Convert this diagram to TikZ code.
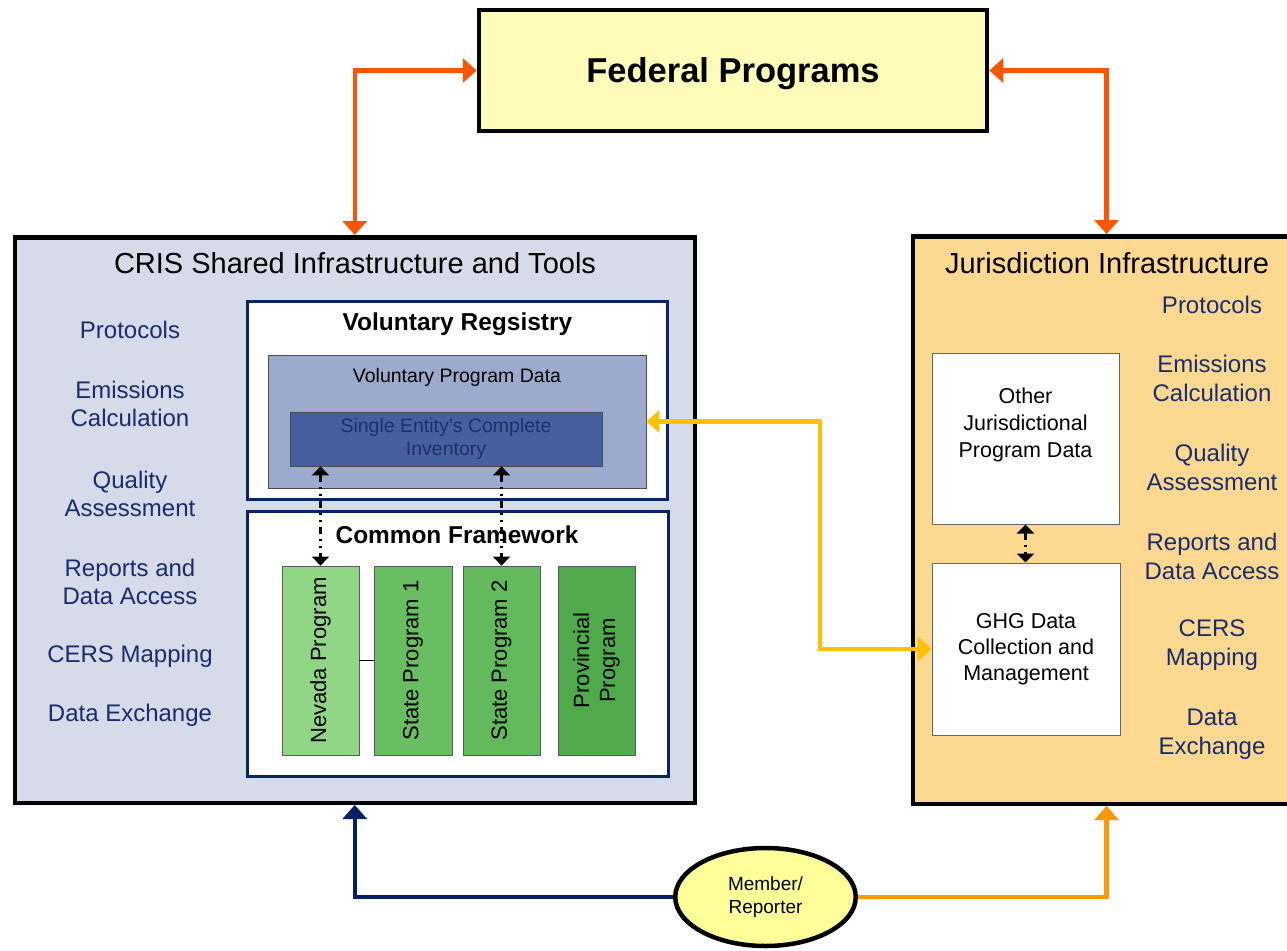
\documentclass[tikz,border=0pt]{standalone}
\usepackage{fontspec}
\setmainfont{Liberation Sans}
\usetikzlibrary{arrows.meta,shapes.geometric,calc}
\definecolor{fedfill}{RGB}{255,251,185}
\definecolor{crisfill}{RGB}{214,219,233}
\definecolor{jurfill}{RGB}{253,216,145}
\definecolor{vpdfill}{RGB}{155,170,205}
\definecolor{seifill}{RGB}{70,95,160}
\definecolor{seitext}{RGB}{30,48,105}
\definecolor{memfill}{RGB}{255,255,153}
\definecolor{redorange}{RGB}{255,85,0}
\definecolor{goldline}{RGB}{255,192,0}
\definecolor{orangeline}{RGB}{255,153,0}
\definecolor{navyline}{RGB}{0,32,96}
\definecolor{navytext}{RGB}{25,45,110}
\definecolor{boxnavy}{RGB}{10,35,100}
\definecolor{greenA}{RGB}{145,214,135}
\definecolor{greenB}{RGB}{105,190,98}
\definecolor{greenC}{RGB}{98,186,92}
\definecolor{greenD}{RGB}{80,170,75}
\newcommand{\myfs}[2]{\fontsize{#1pt}{#2pt}\selectfont}
\begin{document}
\begin{tikzpicture}[x=1pt,y=-1pt,
  bigbox/.style={draw=black,line width=4.5pt,rectangle,inner sep=0pt},
  subbox/.style={draw=boxnavy,line width=3pt,fill=white,rectangle,inner sep=0pt},
  thinbox/.style={draw=black!70,line width=0.8pt,rectangle,inner sep=0pt},
  progbox/.style={draw=black!65,line width=0.8pt,rectangle,inner sep=0pt,minimum height=189pt},
  progtxt/.style={rotate=90,align=center,font=\myfs{22}{26}},
  listtxt/.style={text=navytext,align=center,font=\myfs{24}{28}},
  rlisttxt/.style={text=navytext,align=center,font=\myfs{24}{29}},
  conn/.style={line width=4.5pt},
  bigtip/.style={-{Triangle[length=14pt,width=24pt]}},
  dbltip/.style={{Triangle[length=14pt,width=24pt]}-{Triangle[length=14pt,width=24pt]}},
  dashconn/.style={line width=2.5pt,dash pattern=on 7pt off 5pt on 2pt off 5pt on 2pt off 5pt,
    {Triangle[length=9pt,width=17pt]}-{Triangle[length=9pt,width=17pt]}}
]
\useasboundingbox (0,0) rectangle (1287,950);

% Federal programs
\node[bigbox,fill=fedfill,minimum width=508pt,minimum height=121pt,text depth=0pt] (fed) at (733,70.5)
  {\myfs{34.5}{38}\bfseries Federal Programs};

% CRIS box
\node[bigbox,fill=crisfill,minimum width=680pt,minimum height=565.5pt] (cris) at (354.75,520) {};
\node (cristitle) at (355,263) {\myfs{29}{34}CRIS Shared Infrastructure and Tools};

% left list
\node[listtxt] (l1) at (130,330) {Protocols};
\node[listtxt] (l2) at (130,404) {Emissions\\Calculation};
\node[listtxt] (l3) at (130,493.5) {Quality\\Assessment};
\node[listtxt] (l4) at (130,581.5) {Reports and\\Data Access};
\node[listtxt] (l5) at (130,656) {CERS Mapping};
\node[listtxt] (l6) at (130,715) {Data Exchange};

% Voluntary registry
\node[subbox,minimum width=420pt,minimum height=197.5pt] (vol) at (457.5,400.25) {};
\node (voltitle) at (457.5,324) {\myfs{24.5}{28}\bfseries Voluntary Regsistry};
\node[thinbox,fill=vpdfill,minimum width=378pt,minimum height=133pt] (vpd) at (457,421.5) {};
\node (vpdtxt) at (457,377) {\myfs{19.5}{24}Voluntary Program Data};
\node[thinbox,fill=seifill,minimum width=312pt,minimum height=54pt,text=seitext,align=center,
  font=\myfs{19.5}{23.5}] (sei) at (446,439) {Single Entity's Complete\\Inventory};

% Common framework
\node[subbox,minimum width=421pt,minimum height=265pt] (cf) at (458,643.5) {};
\node (cftitle) at (457,535) {\myfs{24.4}{28}\bfseries Common Framework};
\node[progbox,fill=greenA,minimum width=77pt] (nev) at (320.5,660.5) {};
\node[progbox,fill=greenB,minimum width=78pt] (st1) at (413,660.5) {};
\node[progbox,fill=greenC,minimum width=77pt] (st2) at (501.5,660.5) {};
\node[progbox,fill=greenD,minimum width=77pt] (prov) at (596.5,660.5) {};
\node[progtxt] (nevt) at (nev) {Nevada Program};
\node[progtxt] (st1t) at (st1) {State Program 1};
\node[progtxt] (st2t) at (st2) {State Program 2};
\node[progtxt] (provt) at (prov) {Provincial\\Program};
\draw[line width=0.8pt] (nev.east |- 0,660) -- (st1.west |- 0,660);

\draw[dashconn] (nev.north |- sei.south) -- (nev.north);
\draw[dashconn] (st2.north |- sei.south) -- (st2.north);

% Jurisdiction box
\begin{scope}
\clip (0,0) rectangle (1287,950);
\node[bigbox,fill=jurfill,minimum width=386.75pt,minimum height=567.5pt] (jur) at (1106.6,520) {};
\end{scope}
\node (jurtitle) at (1107,263) {\myfs{29}{34}Jurisdiction Infrastructure};
\node[rlisttxt] (r1) at (1212,305) {Protocols};
\node[rlisttxt] (r2) at (1212,378) {Emissions\\Calculation};
\node[rlisttxt] (r3) at (1212,467.5) {Quality\\Assessment};
\node[rlisttxt] (r4) at (1212,556) {Reports and\\Data Access};
\node[rlisttxt] (r5) at (1212,645) {CERS\\Mapping};
\node[rlisttxt] (r6) at (1212,734) {Data\\Exchange};

\node[draw=black!60,line width=1pt,fill=white,minimum width=187pt,minimum height=171pt] (oth) at (1025.5,438.5) {};
\node[align=center,font=\myfs{21.5}{27}] (othtxt) at (1025.5,424.5) {Other\\Jurisdictional\\Program Data};
\node[draw=black!60,line width=1pt,fill=white,minimum width=188pt,minimum height=172pt,
  align=center,font=\myfs{21.5}{26}] (ghg) at (1026,649) {GHG Data\\Collection and\\Management};
\draw[dashconn] (oth.south) -- (oth.south |- ghg.north);

% Member / Reporter
\node[ellipse,draw=black,line width=4.5pt,fill=memfill,minimum width=180.5pt,minimum height=98pt,
  inner sep=0pt,align=center,font=\myfs{19}{23}] (mem) at (765.5,897) {Member/\\Reporter};

% connectors
\draw[conn,redorange,dbltip] (fed.west) -| (cris.north);
\draw[conn,redorange,dbltip] (fed.east) -| (jur.north);
\draw[conn,goldline,{Triangle[length=13pt,width=22pt]}-{Triangle[length=14pt,width=24pt]}]
  (vpd.east) -| ($(vpd.east)!0.608!(ghg.west)$) |- (ghg.west);
\draw[conn,navyline,bigtip] (mem.west) -| (cris.south);
\draw[conn,orangeline,bigtip] (mem.east) -| (jur.south);
\end{tikzpicture}
\end{document}
